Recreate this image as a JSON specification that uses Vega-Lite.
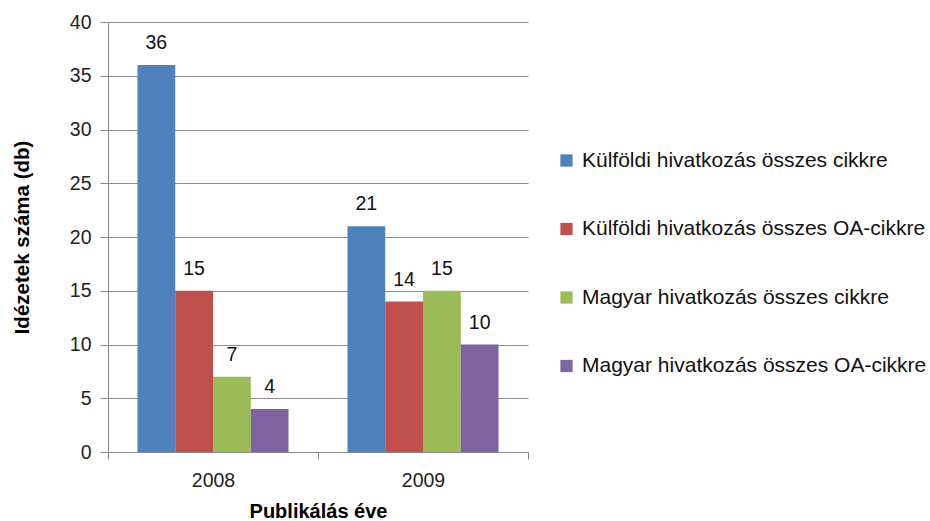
{
  "$schema": "https://vega.github.io/schema/vega-lite/v6.json",
  "width": 420,
  "height": 430,
  "autosize": {"type": "none"},
  "padding": {"left": 108, "top": 22, "right": 402, "bottom": 69},
  "background": "white",
  "config": {
    "font": "Liberation Sans",
    "view": {"stroke": null}
  },
  "data": {
    "values": [
      {"year": "2008", "series": "Külföldi hivatkozás összes cikkre", "value": 36},
      {"year": "2008", "series": "Külföldi hivatkozás összes OA-cikkre", "value": 15},
      {"year": "2008", "series": "Magyar hivatkozás összes cikkre", "value": 7},
      {"year": "2008", "series": "Magyar hivatkozás összes OA-cikkre", "value": 4},
      {"year": "2009", "series": "Külföldi hivatkozás összes cikkre", "value": 21},
      {"year": "2009", "series": "Külföldi hivatkozás összes OA-cikkre", "value": 14},
      {"year": "2009", "series": "Magyar hivatkozás összes cikkre", "value": 15},
      {"year": "2009", "series": "Magyar hivatkozás összes OA-cikkre", "value": 10}
    ]
  },
  "encoding": {
    "x": {
      "field": "year", "type": "nominal",
      "scale": {"paddingInner": 0, "paddingOuter": 0},
      "axis": {
        "title": "Publikálás éve", "titleFontSize": 20, "titleFontWeight": "bold", "titleColor": "#000",
        "titlePadding": 12,
        "labelAngle": 0, "labelFontSize": 19.5, "labelColor": "#222", "labelPadding": 12,
        "tickBand": "extent", "tickSize": 7, "tickColor": "#888", "domainColor": "#888",
        "grid": false
      }
    },
    "xOffset": {
      "field": "series", "type": "nominal",
      "sort": ["Külföldi hivatkozás összes cikkre", "Külföldi hivatkozás összes OA-cikkre", "Magyar hivatkozás összes cikkre", "Magyar hivatkozás összes OA-cikkre"],
      "scale": {"paddingInner": 0, "paddingOuter": 0.78}
    },
    "y": {
      "field": "value", "type": "quantitative",
      "scale": {"domain": [0, 40], "nice": false},
      "axis": {
        "title": "Idézetek száma (db)", "titleFontSize": 20.5, "titleFontWeight": "bold", "titleColor": "#000",
        "titlePadding": 37,
        "values": [0, 5, 10, 15, 20, 25, 30, 35, 40],
        "labelFontSize": 19.5, "labelColor": "#222", "labelPadding": 9,
        "tickSize": 8, "tickColor": "#888", "domainColor": "#888",
        "gridColor": "#8c8c8c", "gridWidth": 1
      }
    }
  },
  "layer": [
    {
      "mark": {"type": "bar"},
      "encoding": {
        "color": {
          "field": "series", "type": "nominal",
          "scale": {
            "domain": ["Külföldi hivatkozás összes cikkre", "Külföldi hivatkozás összes OA-cikkre", "Magyar hivatkozás összes cikkre", "Magyar hivatkozás összes OA-cikkre"],
            "range": ["#4F81BD", "#C0504D", "#9BBB59", "#8064A2"]
          },
          "legend": {
            "title": null, "orient": "none", "legendX": 448, "legendY": 128,
            "symbolType": "square", "symbolSize": 150, "symbolStrokeWidth": 0,
            "labelFontSize": 21, "labelColor": "#111", "labelLimit": 500,
            "rowPadding": 46.5, "labelOffset": 5
          }
        }
      }
    },
    {
      "mark": {"type": "text", "dy": -22, "fontSize": 19.5, "color": "#111"},
      "encoding": {"text": {"field": "value", "type": "quantitative"}}
    }
  ]
}
